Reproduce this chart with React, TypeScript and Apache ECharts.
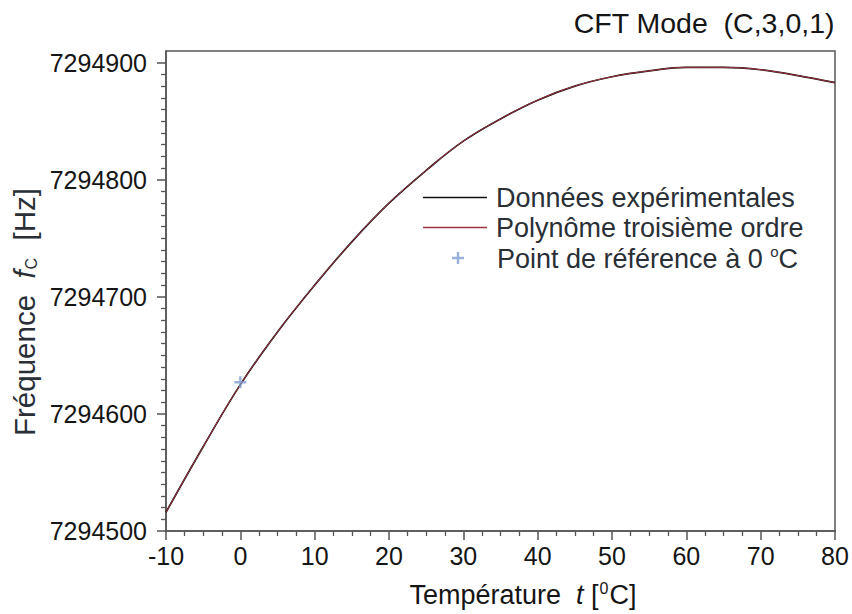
import React, { useEffect, useRef } from 'react';
import * as echarts from 'echarts';

const FONT = "'Liberation Sans', Arial, Helvetica, sans-serif";

// Temperature samples [°C]
const temperatures = [-10, -5, 0, 5, 10, 15, 20, 25, 30, 35, 40, 45, 50, 55, 60, 65, 70, 75, 80];
const measuredFreq = [
  7294516, 7294572, 7294625, 7294670, 7294710, 7294747, 7294780, 7294808, 7294833, 7294852,
  7294868, 7294880, 7294888, 7294893, 7294896, 7294896, 7294894, 7294889, 7294883,
];
// Third order polynomial [Hz]
const polyFreq = [
  7294516, 7294572, 7294625, 7294670, 7294710, 7294747, 7294780, 7294808, 7294833, 7294852,
  7294868, 7294880, 7294888, 7294893, 7294896, 7294896, 7294894, 7294889, 7294883,
];
// Reference point at 0 °C
const refTemp = [0];
const refFreq = [7294627];

const xTicks = [-10, 0, 10, 20, 30, 40, 50, 60, 70, 80];
const yMajorTicks = [7294500, 7294600, 7294700, 7294800, 7294900];
const yMinorStep = 10;

const seriesNames = ['Données expérimentales', 'Polynôme troisième ordre', 'Point de référence à 0 °C'];

export default function App() {
  const ref = useRef<HTMLDivElement>(null);

  useEffect(() => {
    if (!ref.current) return;
    const chart = echarts.init(ref.current, null, { renderer: 'svg' });

    const yMinorTicks: number[] = [];
    for (let i = 0; i < yMajorTicks.length - 1; i++) {
      for (let k = 1; k < 10; k++) yMinorTicks.push(yMajorTicks[i] + k * yMinorStep);
    }

    const axisColor = '#555';
    const textColor = '#151515';
    const nameColor = '#2a2f36';

    chart.setOption({
      animation: false,
      backgroundColor: '#fff',
      title: {
        text: 'CFT Mode  (C,3,0,1)',
        right: 17,
        top: 8,
        padding: 0,
        textStyle: { fontSize: 28.5, fontWeight: 'normal', color: textColor, fontFamily: FONT },
      },
      grid: {
        left: 166,
        right: 17,
        top: 51,
        bottom: 83,
        show: true,
        borderColor: axisColor,
        borderWidth: 1.5,
        backgroundColor: 'transparent',
        outerBoundsMode: 'none',
      },
      legend: [
        {
          orient: 'vertical',
          left: 418,
          top: 179,
          itemWidth: 64,
          itemHeight: 1.6,
          itemGap: 3,
          icon: 'rect',
          data: [{ name: seriesNames[0] }, { name: seriesNames[1] }],
          textStyle: { fontSize: 27, color: nameColor, fontFamily: FONT, lineHeight: 27, padding: [0, 0, 0, 4] },
        },
        {
          orient: 'vertical',
          left: 447,
          top: 239,
          itemWidth: 12,
          itemHeight: 12,
          data: [{ name: seriesNames[2] }],
          formatter: () => '{a|Point de référence à 0 }{sup|o}{a|C}',
          textStyle: {
            color: nameColor,
            fontFamily: FONT,
            padding: [0, 0, 0, 28],
            rich: {
              a: { fontSize: 27, fontFamily: FONT, color: nameColor, lineHeight: 28, verticalAlign: 'bottom' },
              sup: { fontSize: 15, fontFamily: FONT, color: nameColor, lineHeight: 15, verticalAlign: 'top' },
            },
          },
        },
      ],
      xAxis: {
        type: 'value',
        min: xTicks[0],
        max: xTicks[xTicks.length - 1],
        interval: 10,
        axisLine: { show: true, onZero: false, lineStyle: { color: axisColor, width: 1.5 } },
        axisTick: { show: true, inside: false, length: 9, lineStyle: { color: axisColor, width: 1.5 } },
        minorTick: { show: true, splitNumber: 4, length: 5, lineStyle: { color: axisColor, width: 1.3 } },
        axisLabel: { fontSize: 25, color: textColor, margin: 12, fontFamily: FONT },
        splitLine: { show: false },
        minorSplitLine: { show: false },
      },
      yAxis: [
        {
          type: 'value',
          min: 7294500,
          max: 7294910,
          interval: 100,
          position: 'left',
          axisLine: { show: true, onZero: false, lineStyle: { color: axisColor, width: 1.5 } },
          axisTick: { show: true, inside: false, length: 9, customValues: yMajorTicks, lineStyle: { color: axisColor, width: 1.5 } },
          axisLabel: {
            fontSize: 25,
            color: textColor,
            margin: 19,
            fontFamily: FONT,
            customValues: yMajorTicks,
            formatter: (v: number) => String(Math.round(v)),
          },
          splitLine: { show: false },
        },
        {
          type: 'value',
          min: 7294500,
          max: 7294910,
          position: 'left',
          offset: 0,
          axisLine: { show: false, onZero: false },
          axisTick: { show: true, inside: false, length: 5, customValues: yMinorTicks, lineStyle: { color: axisColor, width: 1.3 } },
          axisLabel: { show: false },
          splitLine: { show: false },
        },
      ],
      series: [
        {
          name: seriesNames[0],
          type: 'line',
          yAxisIndex: 0,
          data: temperatures.map((t, i) => [t, measuredFreq[i]]),
          smooth: 0.4,
          symbol: 'none',
          lineStyle: { color: '#111', width: 1.7 },
          itemStyle: { color: '#111' },
          z: 2,
        },
        {
          name: seriesNames[1],
          type: 'line',
          yAxisIndex: 0,
          data: temperatures.map((t, i) => [t, polyFreq[i]]),
          smooth: 0.4,
          symbol: 'none',
          lineStyle: { color: '#a3323f', width: 1 },
          itemStyle: { color: '#a3323f' },
          z: 3,
        },
        {
          name: seriesNames[2],
          type: 'scatter',
          yAxisIndex: 0,
          data: refTemp.map((t, i) => [t, refFreq[i]]),
          symbol: 'path://M4,0h2v10h-2z M0,4h10v2h-10z',
          symbolSize: 12,
          symbolKeepAspect: true,
          itemStyle: { color: '#7f9dd1' },
          z: 4,
        },
      ],
      graphic: [
        {
          type: 'text',
          x: 24,
          y: 312,
          rotation: Math.PI / 2,
          style: {
            text: '{a|Fréquence  }{i|f}{sub|C}{a|  [Hz]}',
            align: 'center',
            verticalAlign: 'middle',
            fill: nameColor,
            rich: {
              a: { fontSize: 29.5, fontFamily: FONT, fill: nameColor, lineHeight: 30, verticalAlign: 'top' },
              i: { fontSize: 29.5, fontFamily: FONT, fontStyle: 'italic', fill: nameColor, lineHeight: 30, verticalAlign: 'top' },
              sub: { fontSize: 16, fontFamily: FONT, fill: nameColor, lineHeight: 16, padding: [18, 1, 0, 1], verticalAlign: 'bottom' },
            },
          },
        },
        {
          type: 'text',
          x: 523,
          y: 594,
          style: {
            text: '{a|Température  }{i|t}{a| [}{sup|0}{a|C]}',
            align: 'center',
            verticalAlign: 'middle',
            fill: textColor,
            rich: {
              a: { fontSize: 27, fontFamily: FONT, fill: textColor, lineHeight: 28, verticalAlign: 'bottom' },
              i: { fontSize: 27, fontFamily: FONT, fontStyle: 'italic', fill: textColor, lineHeight: 28, verticalAlign: 'bottom' },
              sup: { fontSize: 16, fontFamily: FONT, fill: textColor, lineHeight: 16, padding: [0, 1, 14, 1], verticalAlign: 'top' },
            },
          },
        },
      ],
    });

    return () => chart.dispose();
  }, []);

  return (
    <div
      ref={ref}
      style={{ position: 'fixed', left: 0, top: 0, width: 852, height: 614, background: '#fff' }}
    />
  );
}
